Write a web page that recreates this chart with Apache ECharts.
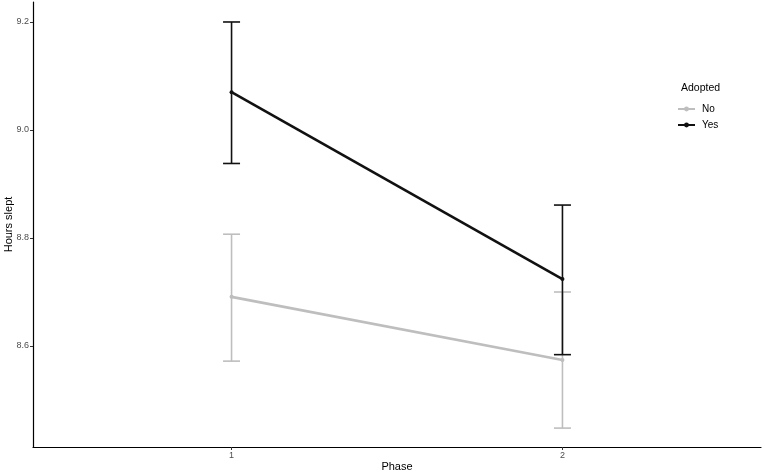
<!DOCTYPE html>
<html>
<head>
<meta charset="utf-8">
<script src="https://cdn.jsdelivr.net/npm/echarts@6/dist/echarts.min.js"></script>
<style>
  html, body { margin: 0; padding: 0; background: #fff; }
  #chart { width: 765px; height: 474px; }
</style>
</head>
<body>
<div id="chart"></div>
<script>
// data
var phases = [1, 2];
var yesMean = [9.070, 8.724];
var yesLow = [8.938, 8.584];
var yesHigh = [9.200, 8.861];
var noMean = [8.691, 8.574];
var noLow = [8.572, 8.448];
var noHigh = [8.807, 8.700];
var yTicks = [8.6, 8.8, 9.0, 9.2];

var BLACK = '#111111';
var GREY = '#bebebe';

function pairs(ys) {
    return phases.map(function (p, i) { return [p, ys[i]]; });
}
function bars(lo, hi) {
    return phases.map(function (p, i) { return [p, lo[i], hi[i]]; });
}

// error bar with caps
function errorBar(color) {
    return function (params, api) {
        var top = api.coord([api.value(0), api.value(2)]);
        var bot = api.coord([api.value(0), api.value(1)]);
        var w = 8.5;
        var st = { stroke: color, lineWidth: 1.6 };
        return {
            type: 'group',
            children: [
                { type: 'line', shape: { x1: top[0], y1: top[1], x2: bot[0], y2: bot[1] }, style: st },
                { type: 'line', shape: { x1: top[0] - w, y1: top[1], x2: top[0] + w, y2: top[1] }, style: st },
                { type: 'line', shape: { x1: bot[0] - w, y1: bot[1], x2: bot[0] + w, y2: bot[1] }, style: st }
            ]
        };
    };
}

var chart = echarts.init(document.getElementById('chart'));
chart.setOption({
    animation: false,
    textStyle: { fontFamily: 'Liberation Sans, Arial, sans-serif' },
    grid: { left: 33, right: 4, top: 2, bottom: 27, containLabel: false, outerBoundsMode: 'none' },
    title: {
        text: 'Adopted',
        left: 676, top: 78,
        textStyle: { fontSize: 10.5, fontWeight: 'normal', color: '#000' }
    },
    legend: {
        left: 672, top: 99,
        orient: 'vertical',
        itemWidth: 17, itemHeight: 6, itemGap: 6,
        data: ['No', 'Yes'],
        textStyle: { fontSize: 10, color: '#000', padding: [0, 0, 0, 2] }
    },
    xAxis: {
        type: 'value',
        min: 0.4, max: 2.6,
        name: 'Phase', nameLocation: 'middle', nameGap: 14, nameMoveOverlap: false,
        nameTextStyle: { fontSize: 11, color: '#000' },
        splitLine: { show: false },
        axisLine: { lineStyle: { color: '#000', width: 1.2 } },
        axisTick: { customValues: phases, length: 3, lineStyle: { color: '#333' } },
        axisLabel: { customValues: phases, fontSize: 9, color: '#4d4d4d', margin: 4 }
    },
    yAxis: {
        type: 'value',
        min: 8.413, max: 9.237,
        name: 'Hours slept', nameLocation: 'middle', nameGap: 19, nameMoveOverlap: false,
        nameTextStyle: { fontSize: 11, color: '#000' },
        splitLine: { show: false },
        axisLine: { show: true, lineStyle: { color: '#000', width: 1.2 } },
        axisTick: { show: true, customValues: yTicks, length: 3, lineStyle: { color: '#333' } },
        axisLabel: {
            customValues: yTicks, fontSize: 9, color: '#4d4d4d', margin: 4,
            formatter: function (v) { return v.toFixed(1); }
        }
    },
    series: [
        {
            type: 'custom', name: 'No bars', renderItem: errorBar(GREY),
            data: bars(noLow, noHigh), encode: { x: 0, y: [1, 2] }, z: 2
        },
        {
            type: 'line', name: 'No', data: pairs(noMean), z: 3,
            symbol: 'circle', symbolSize: 4,
            itemStyle: { color: GREY },
            lineStyle: { color: GREY, width: 2.6 }
        },
        {
            type: 'custom', name: 'Yes bars', renderItem: errorBar(BLACK),
            data: bars(yesLow, yesHigh), encode: { x: 0, y: [1, 2] }, z: 4
        },
        {
            type: 'line', name: 'Yes', data: pairs(yesMean), z: 5,
            symbol: 'circle', symbolSize: 4,
            itemStyle: { color: BLACK },
            lineStyle: { color: BLACK, width: 2.6 }
        }
    ]
});
</script>
</body>
</html>
